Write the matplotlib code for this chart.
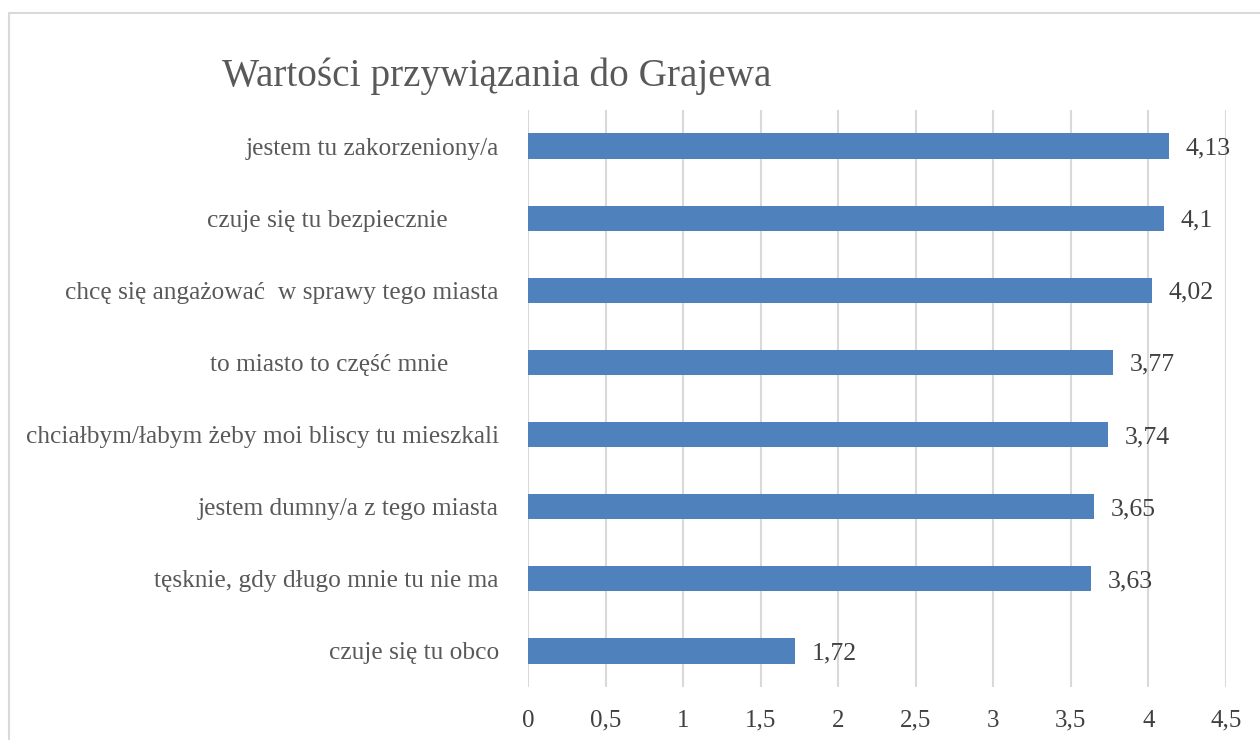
import matplotlib
matplotlib.use("Agg")
import matplotlib.pyplot as plt
from matplotlib.patches import Rectangle

categories = [
    "jestem tu zakorzeniony/a",
    "czuje się tu bezpiecznie        ",
    "chcę się angażować  w sprawy tego miasta",
    "to miasto to część mnie        ",
    "chciałbym/łabym żeby moi bliscy tu mieszkali",
    "jestem dumny/a z tego miasta",
    "tęsknie, gdy długo mnie tu nie ma",
    "czuje się tu obco",
]
values = [4.13, 4.1, 4.02, 3.77, 3.74, 3.65, 3.63, 1.72]
value_labels = ["4,13", "4,1", "4,02", "3,77", "3,74", "3,65", "3,63", "1,72"]
xticks = [0, 0.5, 1, 1.5, 2, 2.5, 3, 3.5, 4, 4.5]
xtick_labels = ["0", "0,5", "1", "1,5", "2", "2,5", "3", "3,5", "4", "4,5"]
title = "Wartości przywiązania do Grajewa"

plt.rcParams['font.family'] = ['Liberation Serif', 'DejaVu Serif']

W, H = 1260, 740
fig = plt.figure(figsize=(W / 100, H / 100), dpi=100)
fig.patch.set_facecolor("white")

# outer chart frame
fig.patches.append(Rectangle((9 / W, -0.1), 1.2, (H - 13) / H + 0.1,
                             transform=fig.transFigure, fill=False,
                             edgecolor="#d9d9d9", linewidth=1.5))

ax = fig.add_axes([528 / W, (H - 687) / H, 698 / W, (687 - 110) / H])
n = len(categories)
ypos = list(range(n))
ax.barh(ypos, values, height=0.35, color="#4F81BD", zorder=3)
ax.set_ylim(n - 0.5, -0.5)
ax.set_xlim(0, 4.5)
ax.set_xticks(xticks)
ax.set_xticklabels(xtick_labels, va="baseline")
ax.set_yticks(ypos)
ax.set_yticklabels(categories)
ax.grid(axis="x", color="#d9d9d9", linewidth=1.5, zorder=0)
for s in ax.spines.values():
    s.set_visible(False)
ax.tick_params(axis="both", length=0)
ax.tick_params(axis="y", pad=21, labelsize=18.3, labelcolor="#595959")
ax.tick_params(axis="x", pad=28.5, labelsize=18, labelcolor="#404040")

for y, v, lab in zip(ypos, values, value_labels):
    ax.annotate(lab, (v, y), xytext=(17, 0), textcoords="offset pixels",
                va="center_baseline", ha="left", fontsize=18.5, color="#404040")

fig.text(222 / W, (H - 86) / H, title, fontsize=28.3, color="#595959",
         ha="left", va="baseline")

fig.savefig("out.png", dpi=100)
